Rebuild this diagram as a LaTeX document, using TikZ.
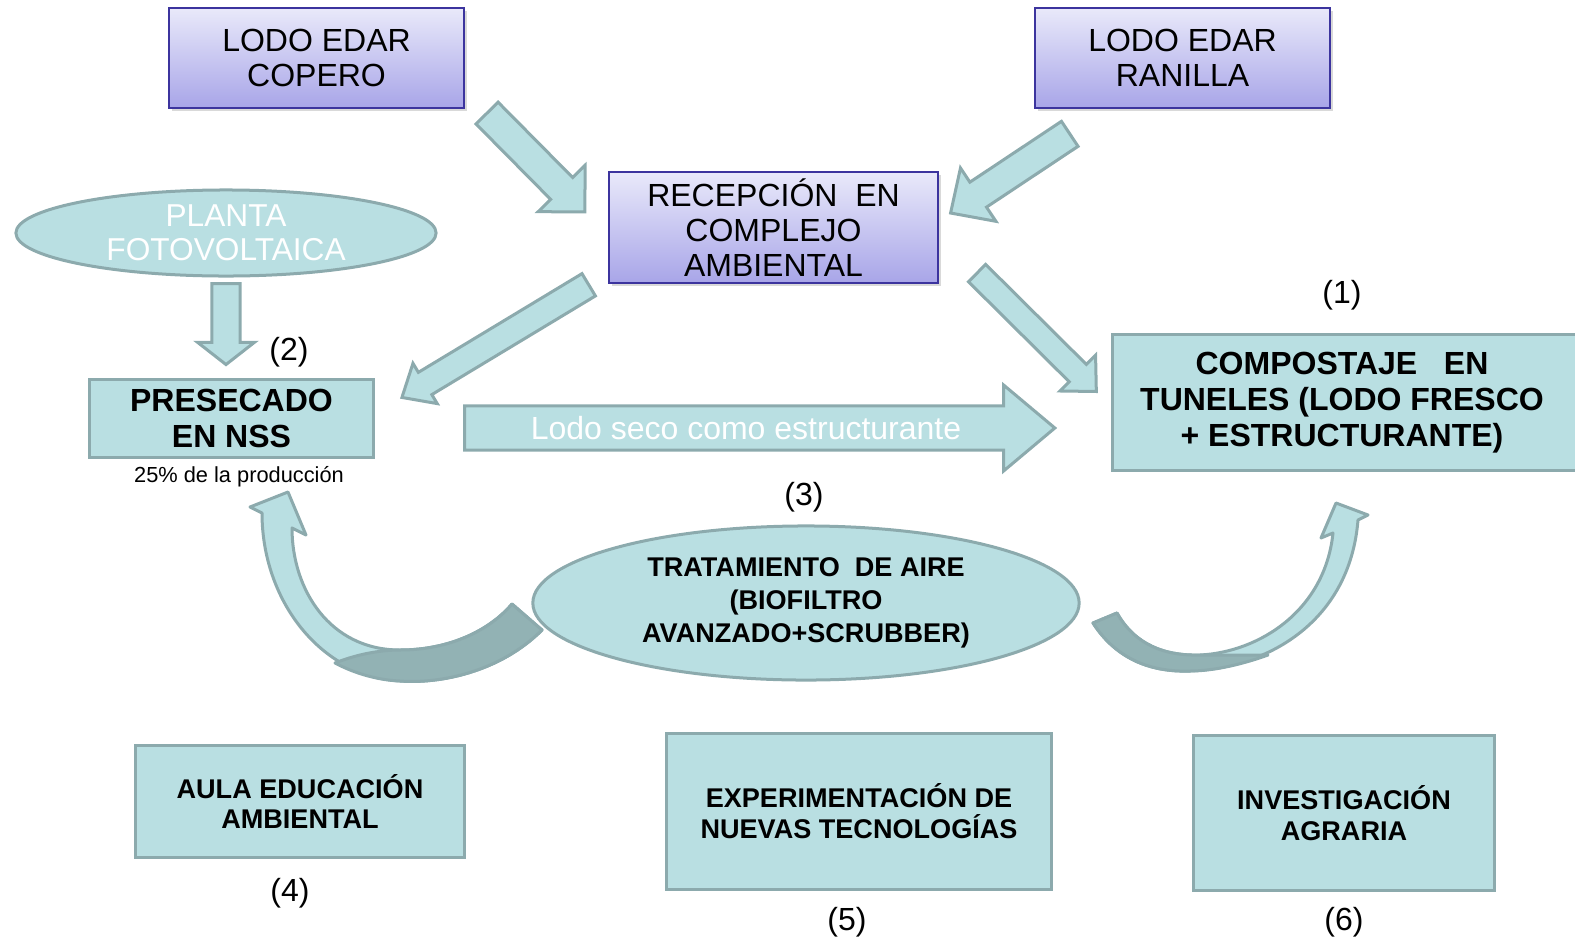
\documentclass[tikz,border=0pt]{standalone}
\usepackage{fontspec}
\setmainfont{Liberation Sans}
\usetikzlibrary{shapes.arrows,shapes.geometric,shadows}
\definecolor{tealfill}{RGB}{185,223,226}
\definecolor{tealline}{RGB}{140,170,173}
\definecolor{tealdark}{RGB}{146,178,180}
\definecolor{lilatop}{RGB}{233,233,250}
\definecolor{lilabot}{RGB}{168,165,232}
\definecolor{lilaline}{RGB}{60,52,158}
\tikzset{
  edar/.style={rectangle,draw=lilaline,line width=0.02cm,top color=lilatop,bottom color=lilabot,
    inner sep=0,align=center,font=\fontsize{9.1}{10}\selectfont,
    drop shadow={shadow xshift=0.03cm,shadow yshift=-0.03cm,opacity=0.3}},
  caja/.style={rectangle,draw=tealline,fill=tealfill,line width=0.03cm,inner sep=0},
  nube/.style={ellipse,draw=tealline,fill=tealfill,line width=0.03cm,inner sep=0},
  negrita/.style={align=center,font=\fontsize{9.1}{10.2}\selectfont\bfseries},
  negritab/.style={align=center,font=\fontsize{7.7}{8.8}\selectfont\bfseries},
  flecha/.style={single arrow,draw=tealline,fill=tealfill,line width=0.03cm,inner xsep=0,
    single arrow head indent=0,anchor=tail},
  curva/.style={draw=tealline,line width=0.03cm,line join=round},
  num/.style={font=\fontsize{9.1}{10}\selectfont}
}
\begin{document}
\begin{tikzpicture}[x=0.01cm,y=-0.01cm]
\useasboundingbox (0,0) rectangle (1575,951);
% flechas
\node[flecha,rotate=-45.3,minimum height=1.39cm,inner ysep=0.14cm,single arrow head extend=0.175cm,single arrow tip angle=90] (f1) at (486,112) {};
\node[flecha,rotate=-146.4,minimum height=1.43cm,inner ysep=0.135cm,single arrow head extend=0.17cm,single arrow tip angle=88] (f2) at (1071,133) {};
\node[flecha,rotate=-148.9,minimum height=2.18cm,inner ysep=0.115cm,single arrow head extend=0.105cm,single arrow tip angle=82] (f3) at (590,284) {};
\node[flecha,rotate=-44.8,minimum height=1.68cm,inner ysep=0.107cm,single arrow head extend=0.13cm,single arrow tip angle=88] (f4) at (976,272) {};
\node[flecha,rotate=-90,minimum height=0.81cm,inner ysep=0.125cm,single arrow head extend=0.145cm,single arrow tip angle=104] (f5) at (226,282) {};
\node[flecha,minimum height=5.9cm,inner ysep=0.205cm,single arrow head extend=0.21cm,single arrow tip angle=80] (seco) at (463,428) {};
\node[text=white,font=\fontsize{9.1}{10}\selectfont] (secotxt) at (746,428) {Lodo seco como estructurante};
% flechas curvas
\filldraw[curva,fill=tealfill] (542,630) .. controls (500,672) and (440,684) .. (400,681)
  .. controls (320,676) and (262,600) .. (262,513) -- (250,507) -- (288,492) -- (306,535) -- (292,528)
  .. controls (292,590) and (330,650) .. (400,650) .. controls (450,650) and (490,630) .. (512,604) -- cycle;
\filldraw[curva,fill=tealdark] (542,630) .. controls (500,672) and (440,684) .. (400,681)
  .. controls (375,680) and (352,672) .. (335,663) .. controls (355,655) and (378,650) .. (400,650)
  .. controls (450,650) and (490,630) .. (512,604) -- cycle;
\filldraw[curva,fill=tealfill] (1093,623) .. controls (1120,665) and (1160,672) .. (1190,671)
  .. controls (1270,668) and (1350,620) .. (1358,520) -- (1368,515) -- (1336,503) -- (1321,538) -- (1333,533)
  .. controls (1325,610) and (1260,652) .. (1200,655) .. controls (1165,656) and (1135,645) .. (1117,613) -- cycle;
\filldraw[curva,fill=tealdark] (1093,623) .. controls (1120,665) and (1160,672) .. (1190,671)
  .. controls (1216,671) and (1246,663) .. (1268,655) .. controls (1246,655) and (1221,655) .. (1200,655)
  .. controls (1165,656) and (1135,645) .. (1117,613) -- cycle;
% cajas
\node[edar,minimum width=2.95cm,minimum height=1cm] (copero) at (316.5,58) {LODO EDAR\\COPERO};
\node[edar,minimum width=2.95cm,minimum height=1cm] (ranilla) at (1182.5,58) {LODO EDAR\\RANILLA};
\node[edar,minimum width=3.29cm,minimum height=1.11cm] (recepcion) at (773.5,227.5) {RECEPCIÓN\ \ EN\\COMPLEJO\\AMBIENTAL};
\node[nube,minimum width=4.2cm,minimum height=0.86cm,text=white,align=center,font=\fontsize{9}{9.7}\selectfont] (planta) at (226,233) {PLANTA\\FOTOVOLTAICA};
\node[caja,negrita,minimum width=2.83cm,minimum height=0.77cm] (presecado) at (231.5,418.5) {PRESECADO\\EN NSS};
\node[font=\fontsize{6.2}{7}\selectfont] (prod) at (239,477) {25\% de la producción};
\node[num] (n2) at (289,352) {(2)};
\node[num] (n1) at (1342,295) {(1)};
\node[caja,minimum width=4.72cm,minimum height=1.35cm] (compostaje) at (1349,402.5) {};
\node[negrita] (comptxt) at (1342,402.5) {COMPOSTAJE\ \ \ EN\\TUNELES (LODO FRESCO\\+ ESTRUCTURANTE)};
\node[num] (n3) at (804,497) {(3)};
\node[nube,negritab,font=\fontsize{7.7}{9.4}\selectfont\bfseries,minimum width=5.46cm,minimum height=1.54cm] (aire) at (806,603) {TRATAMIENTO\ \ DE AIRE\\(BIOFILTRO\\AVANZADO+SCRUBBER)};
\node[caja,negritab,minimum width=3.28cm,minimum height=1.11cm] (aula) at (300,801.5) {AULA EDUCACIÓN\\AMBIENTAL};
\node[caja,negritab,minimum width=3.84cm,minimum height=1.55cm] (experim) at (859,811.5) {EXPERIMENTACIÓN DE\\NUEVAS TECNOLOGÍAS};
\node[caja,negritab,minimum width=3.0cm,minimum height=1.54cm] (investig) at (1344,813) {INVESTIGACIÓN\\AGRARIA};
\node[num] (n4) at (290,893) {(4)};
\node[num] (n5) at (847,922) {(5)};
\node[num] (n6) at (1344,922) {(6)};
\end{tikzpicture}
\end{document}
